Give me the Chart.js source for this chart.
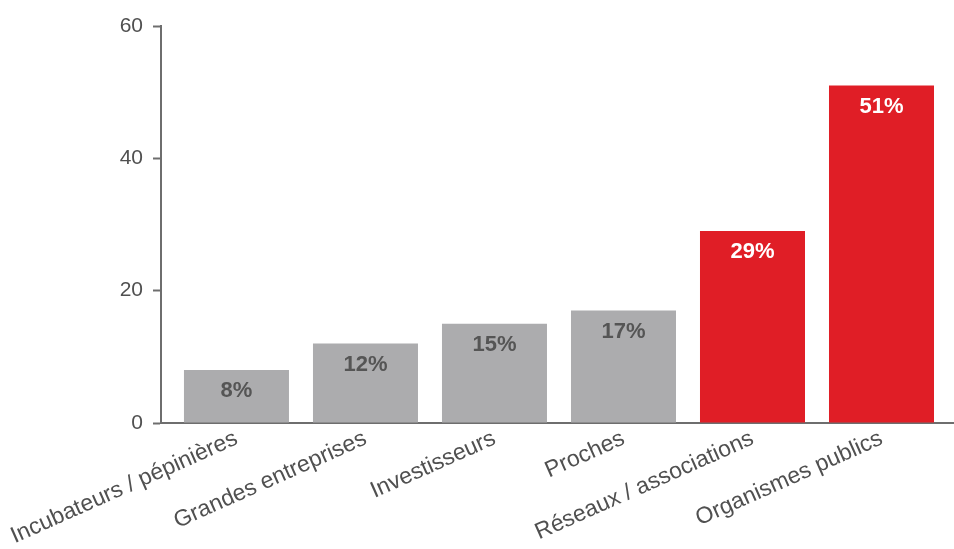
<!DOCTYPE html>
<html>
<head>
<meta charset="utf-8">
<script src="https://cdn.jsdelivr.net/npm/chart.js@4.4.0/dist/chart.umd.min.js"></script>
<style>
  html, body { margin: 0; padding: 0; background: #fff; }
  #wrap { width: 954px; height: 549px; }
</style>
</head>
<body>
<div id="wrap"><canvas id="myChart"></canvas></div>
<script>
"use strict";

var categories = [
    "Incubateurs / pépinières",
    "Grandes entreprises",
    "Investisseurs",
    "Proches",
    "Réseaux / associations",
    "Organismes publics"
];
var values = [8, 12, 15, 17, 29, 51];
var valueLabels = ["8%", "12%", "15%", "17%", "29%", "51%"];
var highlighted = [false, false, false, false, true, true];
var yTicks = [0, 20, 40, 60];

var GREY = "#acacae";
var RED = "#e01e26";
var FONT = "'Liberation Sans', Arial, sans-serif";

// percent text just under the top of each bar
var barLabels = {
    id: 'barLabels',
    afterDatasetsDraw: function(chart) {
        var ctx = chart.ctx;
        var meta = chart.getDatasetMeta(0);
        ctx.save();
        ctx.font = "bold 22px " + FONT;
        ctx.textAlign = 'center';
        ctx.textBaseline = 'middle';
        meta.data.forEach(function(bar, i) {
            ctx.fillStyle = highlighted[i] ? "#ffffff" : "#555555";
            ctx.fillText(valueLabels[i], bar.x, bar.y + 21);
        });
        ctx.restore();
    }
};

var points = [];
for (var i = 0; i < values.length; i++) {
    points.push({ x: i, y: values[i] });
}

var ctx1 = document.getElementById("myChart").getContext('2d');
var myChart = new Chart(ctx1, {
    type: 'bar',
    data: {
        datasets: [{
            data: points,
            backgroundColor: highlighted.map(function(h) { return h ? RED : GREY; }),
            borderWidth: 0,
            categoryPercentage: 1,
            barPercentage: 0.814
        }]
    },
    options: {
        responsive: true,
        maintainAspectRatio: false,
        animation: false,
        layout: {
            padding: { top: 26, right: 0, left: 0, bottom: 0 }
        },
        plugins: {
            legend: { display: false },
            tooltip: { enabled: false }
        },
        scales: {
            x: {
                type: 'linear',
                bounds: 'data',
                offset: false,
                min: -0.585,
                max: 5.562,
                afterBuildTicks: function(scale) {
                    scale.ticks = categories.map(function(c, i) { return { value: i }; });
                },
                afterFit: function(scale) {
                    scale.height = 126;
                    scale.paddingLeft = 0;
                    scale.paddingRight = 0;
                },
                grid: { display: false, drawTicks: false, offset: false },
                border: { display: true, color: "#6e6e6e", width: 2 },
                ticks: {
                    autoSkip: false,
                    minRotation: 24,
                    maxRotation: 24,
                    padding: 2,
                    color: "#505050",
                    font: { family: FONT, size: 23 },
                    callback: function(v) {
                        return categories[Math.round(v)];
                    }
                }
            },
            y: {
                min: 0,
                max: 60,
                afterFit: function(scale) { scale.width = 161; },
                afterBuildTicks: function(scale) {
                    scale.ticks = yTicks.map(function(t) { return { value: t }; });
                },
                grid: {
                    drawOnChartArea: false,
                    drawTicks: true,
                    tickLength: 8,
                    tickWidth: 2,
                    tickColor: "#6e6e6e"
                },
                border: { display: true, color: "#6e6e6e", width: 2 },
                ticks: {
                    padding: 10,
                    color: "#505050",
                    font: { family: FONT, size: 21 }
                }
            }
        }
    },
    plugins: [barLabels]
});
</script>
</body>
</html>
